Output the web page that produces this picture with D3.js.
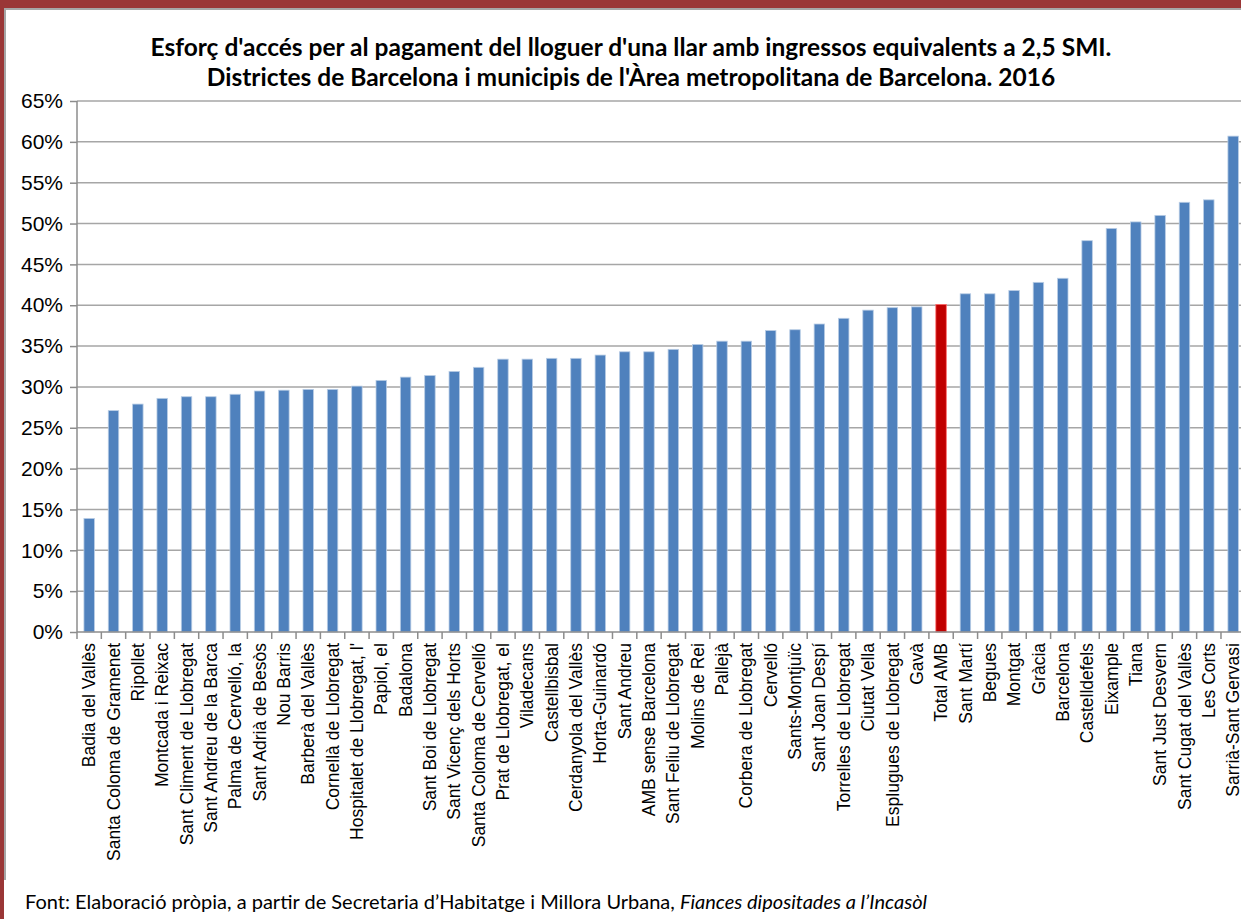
<!DOCTYPE html>
<html>
<head>
<meta charset="utf-8">
<script src="https://cdn.jsdelivr.net/npm/d3@7"></script>
<style>
  html, body { margin: 0; padding: 0; background: #fff; }
  svg { display: block; }
</style>
</head>
<body>
<svg id="chart" width="1241" height="919"></svg>
<script>
const titleLines = [
  "Esforç d'accés per al pagament del lloguer d'una llar amb ingressos equivalents a 2,5 SMI.",
  "Districtes de Barcelona i municipis de l'Àrea metropolitana de Barcelona. 2016"
];
const categories = [
  "Badia del Vallès", "Santa Coloma de Gramenet", "Ripollet", "Montcada i Reixac",
  "Sant Climent de Llobregat", "Sant Andreu de la Barca", "Palma de Cervelló, la",
  "Sant Adrià de Besòs", "Nou Barris", "Barberà del Vallès", "Cornellà de Llobregat",
  "Hospitalet de Llobregat, l'", "Papiol, el", "Badalona", "Sant Boi de Llobregat",
  "Sant Vicenç dels Horts", "Santa Coloma de Cervelló", "Prat de Llobregat, el",
  "Viladecans", "Castellbisbal", "Cerdanyola del Vallès", "Horta-Guinardó", "Sant Andreu",
  "AMB sense Barcelona", "Sant Feliu de Llobregat", "Molins de Rei", "Pallejà",
  "Corbera de Llobregat", "Cervelló", "Sants-Montjuïc", "Sant Joan Despí",
  "Torrelles de Llobregat", "Ciutat Vella", "Esplugues de Llobregat", "Gavà", "Total AMB",
  "Sant Martí", "Begues", "Montgat", "Gràcia", "Barcelona", "Castelldefels", "Eixample",
  "Tiana", "Sant Just Desvern", "Sant Cugat del Vallès", "Les Corts", "Sarrià-Sant Gervasi"
];
const values = [
  0.139, 0.271, 0.279, 0.286, 0.288, 0.288, 0.291, 0.295, 0.296, 0.297, 0.297,
  0.301, 0.308, 0.312, 0.314, 0.319, 0.324, 0.334, 0.334, 0.335, 0.335, 0.339, 0.343,
  0.343, 0.346, 0.352, 0.356, 0.356, 0.369, 0.370, 0.377, 0.384, 0.394, 0.397, 0.398, 0.401,
  0.414, 0.414, 0.418, 0.428, 0.433, 0.479, 0.494, 0.502, 0.510, 0.526, 0.529, 0.607
];
const highlight = ["Total AMB"];
const yTicks = [0, 0.05, 0.10, 0.15, 0.20, 0.25, 0.30, 0.35, 0.40, 0.45, 0.50, 0.55, 0.60, 0.65];
const footerNormal = "Font: Elaboració pròpia, a partir de Secretaria d’Habitatge i Millora Urbana, ";
const footerItalic = "Fiances dipositades a l’Incasòl";

const svg = d3.select("#chart");
const W = 1241, H = 919;

// outer frame
svg.append("rect").attr("x", 0).attr("y", 0).attr("width", W).attr("height", H).attr("fill", "#fff");
svg.append("rect").attr("x", 0).attr("y", 0).attr("width", W).attr("height", 8).attr("fill", "#9a3636");
svg.append("rect").attr("x", 0).attr("y", 0).attr("width", 4).attr("height", H).attr("fill", "#9a3636");
svg.append("line").attr("x1", 4).attr("x2", W).attr("y1", 9).attr("y2", 9).attr("stroke", "#a6a6a6").attr("stroke-width", 2);
svg.append("line").attr("x1", 5).attr("x2", 5).attr("y1", 8).attr("y2", 880).attr("stroke", "#a6a6a6").attr("stroke-width", 2);

const plotLeft = 77, plotTop = 101, plotBottom = 632, step = 24.34;
const n = categories.length;
const p = 0.57;
const x = d3.scaleBand().domain(categories).range([plotLeft, plotLeft + n * step]).paddingInner(p).paddingOuter(p / 2);
const y = d3.scaleLinear().domain([0, 0.65]).range([plotBottom, plotTop]);

// gridlines
svg.append("g").selectAll("line").data(yTicks.filter(t => t > 0)).join("line")
  .attr("x1", plotLeft).attr("x2", W).attr("y1", d => y(d)).attr("y2", d => y(d))
  .attr("stroke", "#a6a6a6").attr("stroke-width", 1.5);

// y axis
const yAxis = d3.axisLeft(y).tickValues(yTicks).tickFormat(d3.format(".0%")).tickSize(7).tickPadding(7);
const gy = svg.append("g").attr("transform", `translate(${plotLeft},0)`).call(yAxis);
gy.select(".domain").attr("stroke", "#8c8c8c").attr("stroke-width", 1.5).attr("d", `M0,${plotTop}V${plotBottom}`);
gy.selectAll(".tick line").attr("stroke", "#8c8c8c").attr("stroke-width", 1.5);
gy.selectAll(".tick text").attr("font-family", "Liberation Sans, Arial, sans-serif").attr("font-size", 21).attr("fill", "#000");

// bars
svg.append("g").selectAll("rect").data(categories).join("rect")
  .attr("x", d => x(d)).attr("width", x.bandwidth())
  .attr("y", (d, i) => y(values[i])).attr("height", (d, i) => plotBottom - y(values[i]))
  .attr("fill", d => highlight.includes(d) ? "#c00000" : "#4f81bd")
  .attr("stroke", d => highlight.includes(d) ? "#ff6b6b" : "#b9cde5").attr("stroke-width", 0.8);

// x axis
const xb = d3.scaleLinear().domain([0, n]).range([plotLeft, plotLeft + n * step]);
svg.append("line").attr("x1", plotLeft).attr("x2", W).attr("y1", plotBottom).attr("y2", plotBottom)
  .attr("stroke", "#8c8c8c").attr("stroke-width", 1.5);
svg.append("g").selectAll("line").data(d3.range(0, n + 1)).join("line")
  .attr("x1", d => xb(d)).attr("x2", d => xb(d)).attr("y1", plotBottom).attr("y2", plotBottom + 7)
  .attr("stroke", "#8c8c8c").attr("stroke-width", 1.5);
svg.append("g").selectAll("text").data(categories).join("text")
  .attr("transform", d => `translate(${x(d) + x.bandwidth() / 2},${plotBottom + 11}) rotate(-90)`)
  .attr("dy", "0.35em").attr("text-anchor", "end")
  .attr("font-family", "Liberation Sans, Arial, sans-serif").attr("font-size", 17.5).attr("fill", "#000")
  .text(d => d);

// title
svg.append("g").selectAll("text").data(titleLines).join("text")
  .attr("x", 631).attr("y", (d, i) => 56 + i * 30).attr("text-anchor", "middle")
  .attr("font-family", "Lato, sans-serif").attr("font-weight", "bold").attr("font-size", 24.5).attr("fill", "#000")
  .text(d => d);

// footer
const ft = svg.append("text").attr("x", 25).attr("y", 909)
  .attr("font-family", "Lato, sans-serif").attr("font-size", 20).attr("fill", "#000");
ft.append("tspan").text(footerNormal);
ft.append("tspan").attr("font-style", "italic").text(footerItalic);
</script>
</body>
</html>
